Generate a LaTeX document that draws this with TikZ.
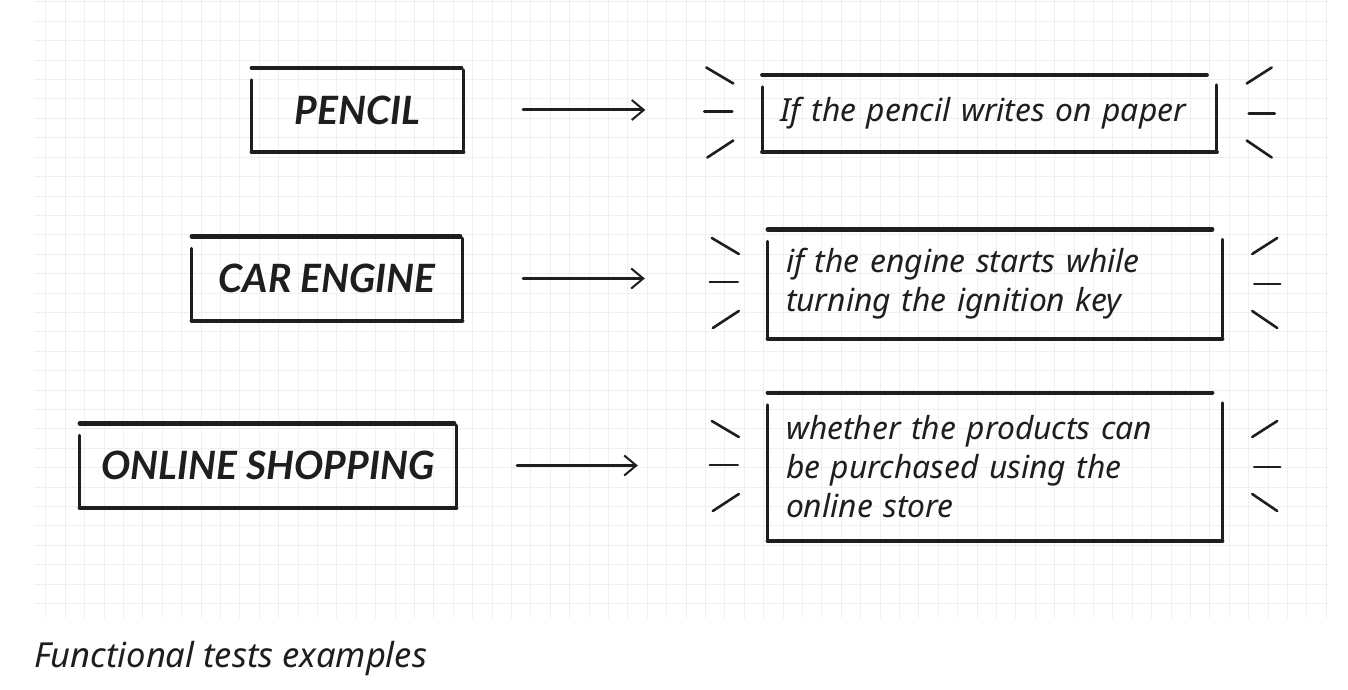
\documentclass[tikz,border=0pt]{standalone}
\usepackage{fontspec}
\setmainfont{Noto Sans}
\newfontfamily\titlefont{Lato}
\usetikzlibrary{arrows.meta}
\definecolor{ink}{HTML}{1E1E1E}
\definecolor{gridcol}{HTML}{ECEFF4}
% hand drawn frame round a node: #1 = gap at the top right corner
\newcommand{\sketchbox}[2][2pt]{%
  \draw[edgeline]	(#2.north west) -- ([xshift=-#1]#2.north east);
  \draw[sideline]	([yshift=-12pt]#2.north west) -- (#2.south west);
  \draw[sideline]	([yshift=-#1]#2.north east) -- ([yshift=2pt]#2.south east);
  \draw[edgeline]	(#2.south west) -- (#2.south east);
}
% little strokes on both sides of a test box
\newcommand{\sparkles}[1]{%
  \draw[sparkline]	([shift={(-56pt,46pt)}]#1.west) -- ([shift={(-29pt,30pt)}]#1.west);
  \draw[sparkline]	([shift={(-58pt,2pt)}]#1.west) -- ([shift={(-30pt,2pt)}]#1.west);
  \draw[sparkline]	([shift={(-55pt,-44pt)}]#1.west) -- ([shift={(-29pt,-27pt)}]#1.west);
  \draw[sparkline]	([shift={(30pt,30pt)}]#1.east) -- ([shift={(55pt,46pt)}]#1.east);
  \draw[sparkline]	([shift={(32pt,0pt)}]#1.east) -- ([shift={(58pt,0pt)}]#1.east);
  \draw[sparkline]	([shift={(30pt,-27pt)}]#1.east) -- ([shift={(55pt,-44pt)}]#1.east);
}
\tikzset{%
  >={Straight Barb[length=12pt,width=20pt,line width=2pt]},
  % Specifications for style of nodes and strokes:
      gridline/.style = {draw=gridcol, line width=0.8pt},
      titlebox/.style = {minimum height=84pt, inner sep=0pt, text=ink,
                         font=\titlefont\fontsize{39}{47}\selectfont\bfseries\itshape},
       testbox/.style = {text width=418pt, inner xsep=18pt, inner ysep=0pt,
                         align=left, text=ink,
                         font=\fontsize{31.8}{39}\selectfont\itshape},
   captiontext/.style = {inner sep=0pt, text=ink,
                         font=\fontsize{34.5}{40}\selectfont\itshape},
      edgeline/.style = {draw=ink, line width=4.4pt, line cap=round},
      sideline/.style = {draw=ink, line width=3pt, line cap=round},
     sparkline/.style = {draw=ink, line width=2.6pt, line cap=round},
     flowarrow/.style = {->, draw=ink, line width=3pt, line cap=round},
}
\begin{document}
\begin{tikzpicture}[x=1pt, y=-1pt]
  \useasboundingbox (0,0) rectangle (1348,690);
  % background grid
  \draw[gridline, shift={(6.9,1.9)}]	(27.1,-1.9) grid[step=19.4pt] (1321.1,616.1);

  % Specification of nodes (position, etc.)
  \node (pencil)			[titlebox, minimum width=211pt] at (357.5,110) {PENCIL};
  \node (engine)			[titlebox, minimum width=270pt] at (327,278.5) {CAR ENGINE};
  \node (shopping)			[titlebox, minimum width=376pt] at (268,465.5) {ONLINE SHOPPING};
  \node (pencil test)		[testbox, minimum height=77pt] at (989.5,113.5) {If the pencil writes on paper};
  \node (engine test)		[testbox, minimum height=109pt] at (995,284) {if the engine starts while\\ turning the ignition key};
  \node (shopping test)		[testbox, minimum height=148pt] at (995,467) {whether the products can\\ be purchased using the\\ online store};
  \node (caption)			[captiontext, anchor=base west] at (34,667) {Functional tests examples};

  \sketchbox{pencil}
  \sketchbox{engine}
  \sketchbox{shopping}
  \sketchbox[10pt]{pencil test}
  \sketchbox[10pt]{engine test}
  \sketchbox[10pt]{shopping test}

  \sparkles{pencil test}
  \sparkles{engine test}
  \sparkles{shopping test}

  \draw[flowarrow, shorten <=60pt, shorten >=117pt]	(pencil.east) -- (pencil.east -| pencil test.west);
  \draw[flowarrow, shorten <=61pt, shorten >=123pt]	(engine.east) -- (engine.east -| engine test.west);
  \draw[flowarrow, shorten <=61pt, shorten >=130pt]	(shopping.east) -- (shopping.east -| shopping test.west);
\end{tikzpicture}
\end{document}
